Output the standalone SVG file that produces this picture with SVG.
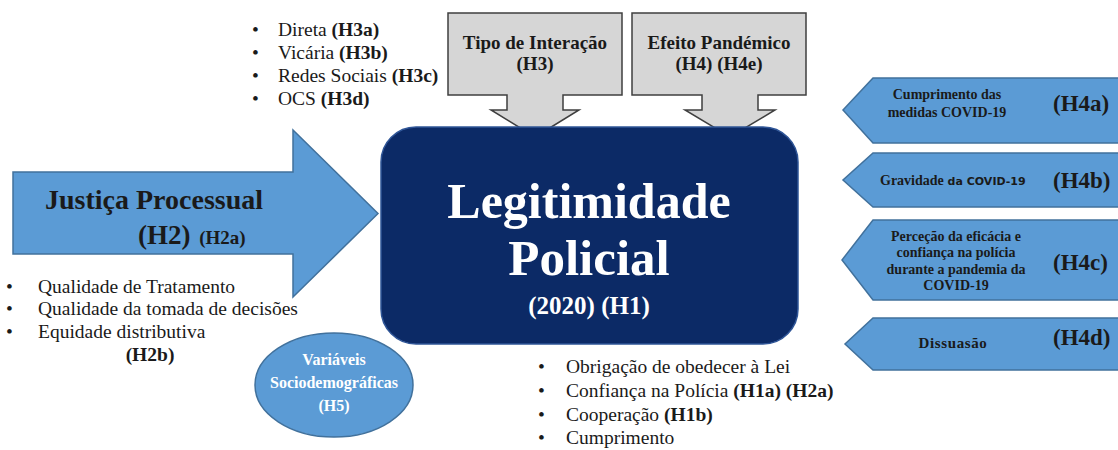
<svg xmlns="http://www.w3.org/2000/svg" width="1118" height="450" viewBox="0 0 1118 450">
<style>
text{font-family:"Liberation Serif","Times New Roman",serif;fill:#1a1a1a}
.b{font-weight:bold}
.blue{fill:#5b9bd5;stroke:#41719c;stroke-width:1.5}
.gray{fill:#d6d6d6;stroke:#3f3f3f;stroke-width:1.5}
.bul{font-size:19.5px}
.rl{font-size:14px;font-weight:bold;text-anchor:middle}
.hr{font-size:23px;font-weight:bold}
.w{fill:#ffffff}
</style>
<rect width="1118" height="450" fill="#ffffff"/>
<g id="connectors"/>
<g id="top-bullets" class="bul">
<text x="252" y="36">•</text><text x="278" y="36">Direta <tspan class="b">(H3a)</tspan></text>
<text x="252" y="59">•</text><text x="278" y="59">Vicária <tspan class="b">(H3b)</tspan></text>
<text x="252" y="82">•</text><text x="278" y="82">Redes Sociais <tspan class="b">(H3c)</tspan></text>
<text x="252" y="105">•</text><text x="278" y="105">OCS <tspan class="b">(H3d)</tspan></text>
</g>
<g id="tipo-interacao">
<path class="gray" d="M448,13 H622 V95 H563 V110 H579 L535,137 L491,110 H507 V95 H448 Z"/>
<text x="535" y="49" font-size="19" class="b" text-anchor="middle" fill="#262626">Tipo de Interação</text>
<text x="535" y="70" font-size="19" class="b" text-anchor="middle" fill="#262626">(H3)</text>
</g>
<g id="efeito-pandemico">
<path class="gray" d="M632,13 H806 V95 H758 V110 H775 L730,137 L685,110 H702 V95 H632 Z"/>
<text x="719" y="49" font-size="19" class="b" text-anchor="middle" fill="#262626">Efeito Pandémico</text>
<text x="719" y="70" font-size="19" class="b" text-anchor="middle" fill="#262626">(H4) (H4e)</text>
</g>
<g id="justica-processual">
<path class="blue" d="M13,172 H293 V130 L378,213.5 L293,297 V254 H13 Z"/>
<text x="45" y="209" font-size="28" class="b">Justiça Processual</text>
<text x="138" y="244" font-size="27" class="b">(H2) <tspan font-size="19" dx="2">(H2a)</tspan></text>
</g>
<g id="justica-bullets" class="bul">
<text x="6" y="293">•</text><text x="38" y="293">Qualidade de Tratamento</text>
<text x="6" y="315">•</text><text x="38" y="315">Qualidade da tomada de decisões</text>
<text x="6" y="338">•</text><text x="38" y="338">Equidade distributiva</text>
<text x="150" y="361" class="b" text-anchor="middle">(H2b)</text>
</g>
<g id="legitimidade">
<rect x="381" y="127" width="417" height="217" rx="35" fill="#0c2a66" stroke="#2f5597" stroke-width="1.5"/>
<text x="589" y="218" font-size="50" class="b w" text-anchor="middle">Legitimidade</text>
<text x="589" y="275" font-size="51" class="b w" text-anchor="middle">Policial</text>
<text x="589" y="314" font-size="25" class="b w" text-anchor="middle">(2020) (H1)</text>
</g>
<g id="sociodemograficas">
<ellipse class="blue" cx="334" cy="385" rx="79" ry="52"/>
<text x="334" y="365" font-size="16" class="b w" text-anchor="middle">Variáveis</text>
<text x="334" y="388" font-size="16" class="b w" text-anchor="middle">Sociodemográficas</text>
<text x="334" y="411" font-size="16" class="b w" text-anchor="middle">(H5)</text>
</g>
<g id="legitimidade-bullets" class="bul">
<text x="538" y="373">•</text><text x="566" y="373">Obrigação de obedecer à Lei</text>
<text x="538" y="397">•</text><text x="566" y="397">Confiança na Polícia <tspan class="b">(H1a) (H2a)</tspan></text>
<text x="538" y="421">•</text><text x="566" y="421">Cooperação <tspan class="b">(H1b)</tspan></text>
<text x="538" y="444">•</text><text x="566" y="444">Cumprimento</text>
</g>
<g id="h4a">
<path class="blue" d="M1119,78 H873 L843,110 L873,143 H1119 Z"/>
<text x="947" y="99" class="rl">Cumprimento das</text>
<text x="947" y="117" class="rl">medidas COVID-19</text>
<text x="1053" y="111" class="hr">(H4a)</text>
</g>
<g id="h4b">
<path class="blue" d="M1119,153 H873 L843,180 L873,207 H1119 Z"/>
<text x="880" y="185" font-size="14" class="b">Gravidade<tspan font-family="DejaVu Sans, sans-serif" font-size="11"> da COVID-19</tspan></text>
<text x="1053" y="188" class="hr">(H4b)</text>
</g>
<g id="h4c">
<path class="blue" d="M1119,220 H873 L842,260 L873,300 H1119 Z"/>
<text x="956" y="241" class="rl">Perceção da eficácia e</text>
<text x="956" y="257" class="rl">confiança na polícia</text>
<text x="956" y="274" class="rl">durante a pandemia da</text>
<text x="956" y="290" class="rl">COVID-19</text>
<text x="1053" y="270" class="hr">(H4c)</text>
</g>
<g id="h4d">
<path class="blue" d="M1119,318 H873 L845,344 L873,370 H1119 Z"/>
<text x="953" y="348" font-size="15" letter-spacing="0.6" class="b" text-anchor="middle">Dissuasão</text>
<text x="1053" y="345" class="hr">(H4d)</text>
</g>
</svg>
